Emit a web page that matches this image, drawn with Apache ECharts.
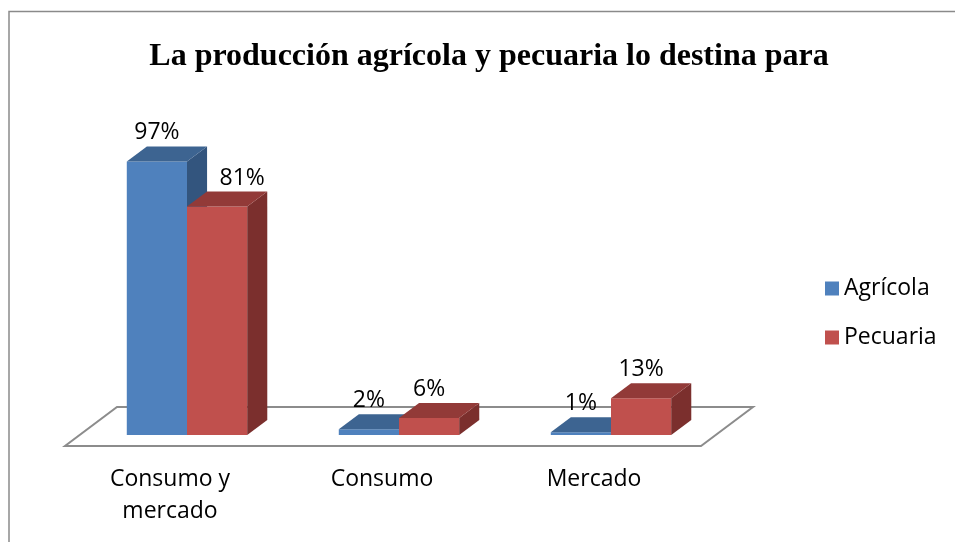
<!DOCTYPE html>
<html>
<head>
<meta charset="utf-8">
<script src="https://cdn.jsdelivr.net/npm/echarts@6/dist/echarts.min.js"></script>
<style>
  html, body { margin: 0; padding: 0; background: #fff; }
  #chart { width: 955px; height: 542px; }
</style>
</head>
<body>
<div id="chart"></div>
<script>
// data
const categories = ['Consumo y\nmercado', 'Consumo', 'Mercado']
const agricola = [97, 2, 1]
const pecuaria = [81, 6, 13]
const seriesNames = ['Agrícola', 'Pecuaria']

// front / top / side shades
const blue = { front: '#4f81bd', top: '#3d6491', side: '#33557e' }
const red = { front: '#c0504d', top: '#923a38', side: '#7b2f2d' }

const labelFont = '23px "Open Sans", sans-serif'

// 3D-ish bar drawn from the axis scales
function barRenderer(slot, shade, other) {
  return function (params, api) {
    const cat = api.value(0)
    const val = api.value(1)
    const base = api.coord([cat, 0])
    const top = api.coord([cat, val])
    const band = api.size([1, 0])[0]
    const w = band * 0.284
    const dx = w / 3
    const dy = -dx * 0.75
    const x0 = slot === 0 ? base[0] - w : base[0]
    const x1 = x0 + w
    const yb = base[1]
    const yt = top[1]
    // label of the right bar moves off the taller left bar's side
    let lx = (x0 + x1) / 2
    if (slot === 1 && other[cat] > val + 5) lx += dx * 1.25
    return {
      type: 'group',
      children: [
        { type: 'polygon', shape: { points: [[x0, yb], [x1, yb], [x1, yt], [x0, yt]] }, style: { fill: shade.front } },
        { type: 'polygon', shape: { points: [[x1, yb], [x1 + dx, yb + dy], [x1 + dx, yt + dy], [x1, yt]] }, style: { fill: shade.side } },
        { type: 'polygon', shape: { points: [[x0, yt], [x1, yt], [x1 + dx, yt + dy], [x0 + dx, yt + dy]] }, style: { fill: shade.top } },
        {
          type: 'text',
          style: {
            text: val + '%',
            x: lx,
            y: yt + dy - 2,
            align: 'center',
            verticalAlign: 'bottom',
            font: labelFont,
            fill: '#000'
          }
        }
      ]
    }
  }
}

// floor plane under the bars, built from the grid rectangle
function floorRenderer(params, api) {
  const cs = params.coordSys
  const yFront = cs.y + cs.height + 11
  const depthX = 52
  const depthY = -39
  const xl = cs.x - 16
  const xr = cs.x + cs.width - 16
  return {
    type: 'polygon',
    shape: { points: [[xl, yFront], [xr, yFront], [xr + depthX, yFront + depthY], [xl + depthX, yFront + depthY]] },
    style: { fill: '#fff', stroke: '#8c8c8c', lineWidth: 2 }
  }
}

const chart = echarts.init(document.getElementById('chart'))
chart.setOption({
  animation: false,
  title: {
    text: 'La producción agrícola y pecuaria lo destina para',
    left: 484,
    top: 36,
    textAlign: 'center',
    textStyle: {
      fontFamily: '"Liberation Serif", "Times New Roman", serif',
      fontWeight: 'bold',
      fontSize: 32,
      color: '#000'
    }
  },
  legend: {
    data: seriesNames,
    orient: 'vertical',
    left: 820,
    top: 272,
    icon: 'rect',
    itemWidth: 14,
    itemHeight: 14,
    itemGap: 26,
    textStyle: { fontFamily: '"Open Sans", sans-serif', fontSize: 23, color: '#000', lineHeight: 22 }
  },
  graphic: [
    {
      type: 'rect',
      shape: { x: 9, y: 11.5, width: 1000, height: 600 },
      style: { fill: 'none', stroke: '#8a8a8a', lineWidth: 1.5 },
      silent: true
    }
  ],
  grid: { left: 81, right: 238, top: 153, bottom: 107 },
  xAxis: {
    type: 'category',
    data: categories,
    axisLine: { show: false },
    axisTick: { show: false },
    axisLabel: {
      margin: 28,
      color: '#000',
      fontFamily: '"Open Sans", sans-serif',
      fontSize: 23,
      lineHeight: 32,
      padding: [0, 34, 0, 0]
    }
  },
  yAxis: { type: 'value', min: 0, max: 100, show: false },
  series: [
    {
      type: 'custom',
      silent: true,
      z: 1,
      data: [[0, 0]],
      renderItem: floorRenderer
    },
    {
      name: seriesNames[0],
      type: 'custom',
      z: 2,
      clip: false,
      itemStyle: { color: blue.front },
      data: agricola.map((v, i) => [i, v]),
      renderItem: barRenderer(0, blue, pecuaria)
    },
    {
      name: seriesNames[1],
      type: 'custom',
      z: 3,
      clip: false,
      itemStyle: { color: red.front },
      data: pecuaria.map((v, i) => [i, v]),
      renderItem: barRenderer(1, red, agricola)
    }
  ]
})
</script>
</body>
</html>
